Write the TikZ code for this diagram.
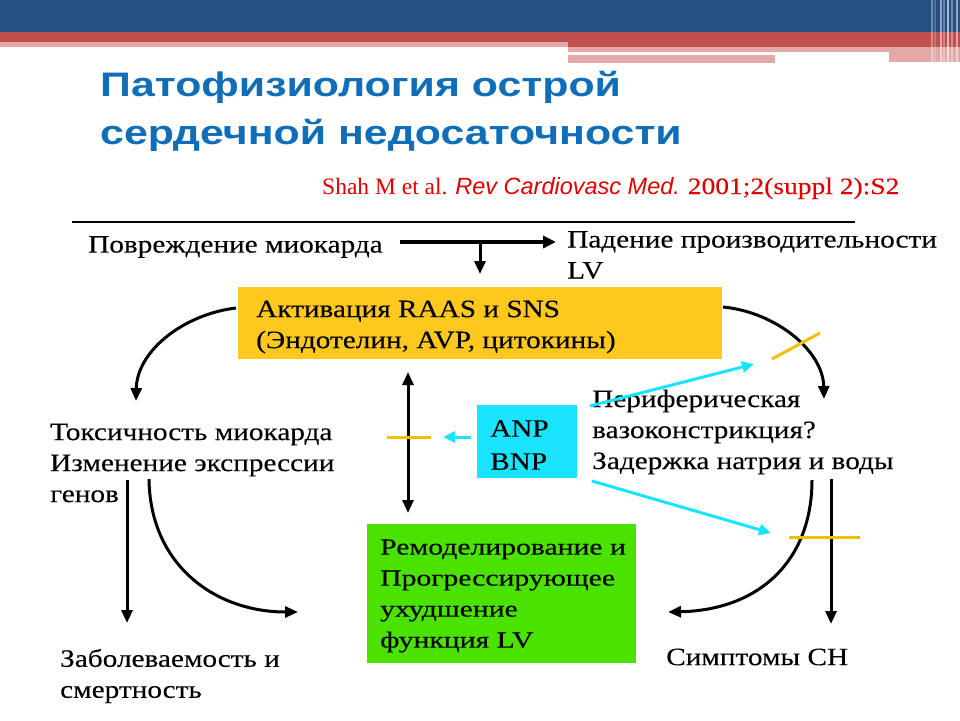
\documentclass[tikz,border=0pt]{standalone}
\usepackage{fontspec}
\setmainfont{Liberation Serif}
\newfontfamily\geo[FakeStretch=1.17,FakeBold=0.15]{Liberation Serif}
\newfontfamily\geog[FakeStretch=1.29,FakeBold=0.1]{Liberation Serif}
\newfontfamily\hfont{Liberation Sans}
\newfontfamily\ttlfont[FakeStretch=1.26]{Liberation Sans}
\usetikzlibrary{arrows.meta}
\definecolor{hblue}{RGB}{36,80,130}
\definecolor{hred}{RGB}{192,80,77}
\definecolor{hpink}{RGB}{228,168,168}
\definecolor{ttlblue}{RGB}{16,110,185}
\definecolor{cred}{RGB}{224,0,0}
\definecolor{boxyellow}{RGB}{255,200,30}
\definecolor{boxgreen}{RGB}{76,226,0}
\definecolor{boxcyan}{RGB}{25,228,255}
\definecolor{linkyellow}{RGB}{245,190,0}
\begin{document}
\begin{tikzpicture}[x=1pt,y=-1pt,
  txt/.style={inner sep=0pt, anchor=west, align=left, font=\geo\fontsize{25}{31}\selectfont},
  plain/.style={inner sep=0pt, anchor=west, align=left, font=\geog\fontsize{23}{31}\selectfont},
  blk/.style={line width=3pt, -{Triangle[width=11pt,length=13pt]}},
  dbl/.style={line width=3pt, {Triangle[width=11pt,length=13pt]}-{Triangle[width=11pt,length=13pt]}},
  cy/.style={line width=3pt, draw=boxcyan, -{Triangle[width=11pt,length=12pt,fill=boxcyan]}},
  blk2/.style={line width=3pt, draw=linkyellow},
  stripe/.style={draw=white, line width=1.2pt}]
\useasboundingbox (0,0) rectangle (960,720);
\fill[white] (0,0) rectangle (960,720);
% header
\fill[hblue] (0,0) rectangle (960,32);
\fill[hred] (0,32) rectangle (960,42);
\fill[hred] (568,42) rectangle (960,47);
\fill[hpink] (0,42) rectangle (568,47);
\fill[hpink] (568,47) rectangle (960,52);
\fill[white] (568,52) rectangle (889,54.5);
\fill[hpink] (568,54.5) rectangle (775,63);
\fill[hpink] (889,52) rectangle (960,62);
\foreach \xx/\op in {932/0.35,935/0.2,941/0.5,944/0.3,948/0.6,952/0.35,957/0.5}
  \draw[stripe, opacity=\op] (\xx,0) -- (\xx,63);
% title
\node[inner sep=0pt, anchor=west, align=left, text=ttlblue,
      font=\ttlfont\bfseries\fontsize{34}{48}\selectfont] (title) at (100,111)
  {Патофизиология острой\\сердечной недосаточности};
\node[inner sep=0pt, anchor=west, text=cred, font=\fontsize{23.5}{28}\selectfont] (cite) at (322,188)
  {Shah M et al. {\hfont\itshape Rev Cardiovasc Med.} {\geo 2001;2(suppl 2):S2}};
\draw[line width=2pt] (72,222) -- (855,222);
% texts
\node[txt] (dmg) at (88,247) {Повреждение миокарда};
\node[txt] (fall) at (567,255) {Падение производительности\\LV};
\node[fill=boxyellow, minimum width=484pt, minimum height=72pt, anchor=north west, inner sep=0pt] (act) at (238,287) {};
\node[txt] (acttxt) at (256,327) {Активация RAAS и SNS\\(Эндотелин, AVP, цитокины)};
\node[txt] (tox) at (50,463) {Токсичность миокарда\\Изменение экспрессии\\генов};
\node[fill=boxcyan, minimum width=100pt, minimum height=73pt, anchor=north west, inner sep=0pt] (anp) at (477,405) {};
\node[inner sep=0pt, anchor=west, align=left, font=\geo\fontsize{25}{33}\selectfont] (anptxt) at (490,445) {ANP\\BNP};
\node[txt] (peri) at (592,432) {Периферическая\\вазоконстрикция?\\Задержка натрия и воды};
\node[fill=boxgreen, minimum width=269pt, minimum height=139pt, anchor=north west, inner sep=0pt] (remod) at (367,524) {};
\node[plain] (remodtxt) at (380,596) {Ремоделирование и\\Прогрессирующее\\ухудшение\\функция LV};
\node[txt] (morb) at (60,676) {Заболеваемость и\\смертность};
\node[txt] (symp) at (666,657) {Симптомы СН};
% connector points
\coordinate (dmgR) at (400,242);
\coordinate (fallL) at (556,242);
\coordinate (split) at (480,242);
\coordinate (splitD) at (480,274);
\coordinate (actL) at (236,308);
\coordinate (toxT) at (136,401);
\coordinate (actR) at (723,307);
\coordinate (periT) at (824,399);
\coordinate (vTop) at (408,372);
\coordinate (vBot) at (408,513);
\coordinate (toxB1) at (127,480);
\coordinate (morbT) at (127,623);
\coordinate (toxB2) at (149,479);
\coordinate (remodL) at (298,612);
\coordinate (periB1) at (812,480);
\coordinate (remodR) at (668,612);
\coordinate (periB2) at (831,479);
\coordinate (sympT) at (831,624);
\coordinate (anpL) at (471,437);
\coordinate (anpLend) at (443,437);
\coordinate (anpU) at (590,406);
\coordinate (anpUend) at (754,364);
\coordinate (anpD) at (592,481);
\coordinate (anpDend) at (771,533);
% black connectors
\draw[line width=3.5pt, -{Triangle[width=12pt,length=13pt]}] (dmgR) -- (fallL);
\draw[blk] (split) -- (splitD);
\draw[blk] (actL) .. controls (185,314) and (137,350) .. (toxT);
\draw[blk] (actR) .. controls (775,312) and (823,350) .. (periT);
\draw[dbl] (vTop) -- (vBot);
\draw[blk] (toxB1) -- (morbT);
\draw[blk] (toxB2) .. controls (150,565) and (215,612) .. (remodL);
\draw[blk] (periB1) .. controls (812,560) and (760,610) .. (remodR);
\draw[blk] (periB2) -- (sympT);
% cyan connectors
\draw[cy] (anpL) -- (anpLend);
\draw[cy] (anpU) -- (anpUend);
\draw[cy] (anpD) -- (anpDend);
% yellow block marks
\draw[blk2] (387,437) -- (431,437);
\draw[blk2] (772,359) -- (820,333);
\draw[blk2] (789,537) -- (860,537);
\end{tikzpicture}
\end{document}
